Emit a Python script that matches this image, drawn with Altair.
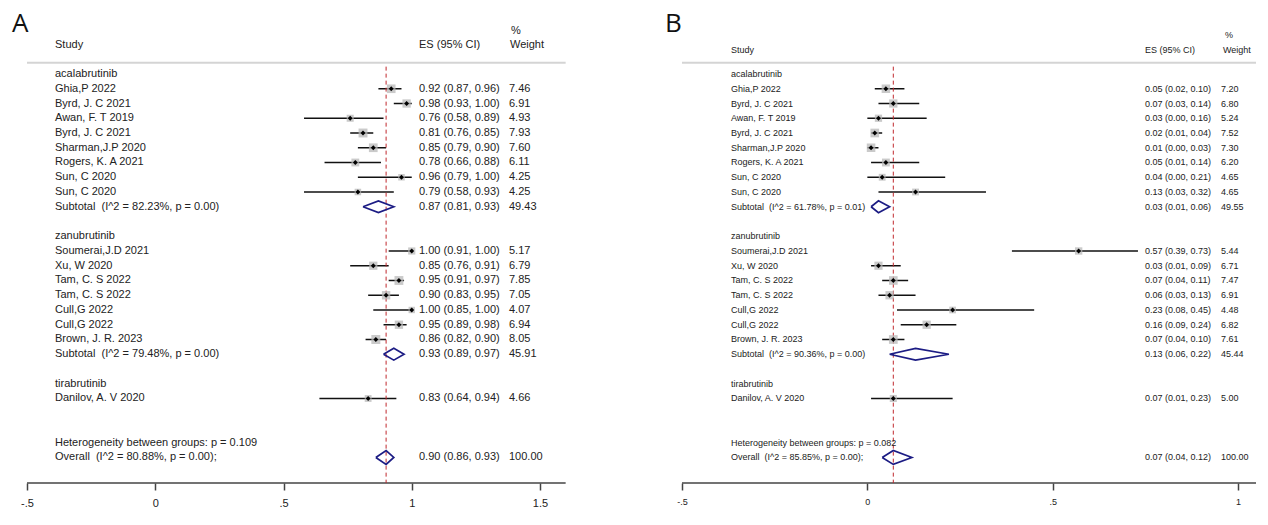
import altair as alt
import pandas as pd

# ---------------- shared structure ----------------
groups = ["acalabrutinib", "zanubrutinib", "tirabrutinib"]
group_sizes = [8, 7, 1]
studies = ["Ghia,P 2022", "Byrd, J. C 2021", "Awan, F. T 2019", "Byrd, J. C 2021",
           "Sharman,J.P 2020", "Rogers, K. A 2021", "Sun, C 2020", "Sun, C 2020",
           "Soumerai,J.D 2021", "Xu, W 2020", "Tam, C. S 2022", "Tam, C. S 2022",
           "Cull,G 2022", "Cull,G 2022", "Brown, J. R. 2023",
           "Danilov, A. V 2020"]

# ---------------- panel A ----------------
a_es = [0.92, 0.98, 0.76, 0.81, 0.85, 0.78, 0.96, 0.79,
        1.00, 0.85, 0.95, 0.90, 1.00, 0.95, 0.86, 0.83]
a_lo = [0.87, 0.93, 0.58, 0.76, 0.79, 0.66, 0.79, 0.58,
        0.91, 0.76, 0.91, 0.83, 0.85, 0.89, 0.82, 0.64]
a_hi = [0.96, 1.00, 0.89, 0.85, 0.90, 0.88, 1.00, 0.93,
        1.00, 0.91, 0.97, 0.95, 1.00, 0.98, 0.90, 0.94]
a_w = [7.46, 6.91, 4.93, 7.93, 7.60, 6.11, 4.25, 4.25,
       5.17, 6.79, 7.85, 7.05, 4.07, 6.94, 8.05, 4.66]
a_sub_label = ["Subtotal  (I^2 = 82.23%, p = 0.00)", "Subtotal  (I^2 = 79.48%, p = 0.00)"]
a_sub_es = [0.87, 0.93]
a_sub_lo = [0.81, 0.89]
a_sub_hi = [0.93, 0.97]
a_sub_w = [49.43, 45.91]
a_het = "Heterogeneity between groups: p = 0.109"
a_ov_label = "Overall  (I^2 = 80.88%, p = 0.00);"
a_ov = [0.90, 0.86, 0.93, 100.00]

# ---------------- panel B ----------------
b_es = [0.05, 0.07, 0.03, 0.02, 0.01, 0.05, 0.04, 0.13,
        0.57, 0.03, 0.07, 0.06, 0.23, 0.16, 0.07, 0.07]
b_lo = [0.02, 0.03, 0.00, 0.01, 0.00, 0.01, 0.00, 0.03,
        0.39, 0.01, 0.04, 0.03, 0.08, 0.09, 0.04, 0.01]
b_hi = [0.10, 0.14, 0.16, 0.04, 0.03, 0.14, 0.21, 0.32,
        0.73, 0.09, 0.11, 0.13, 0.45, 0.24, 0.10, 0.23]
b_w = [7.20, 6.80, 5.24, 7.52, 7.30, 6.20, 4.65, 4.65,
       5.44, 6.71, 7.47, 6.91, 4.48, 6.82, 7.61, 5.00]
b_sub_label = ["Subtotal  (I^2 = 61.78%, p = 0.01)", "Subtotal  (I^2 = 90.36%, p = 0.00)"]
b_sub_es = [0.03, 0.13]
b_sub_lo = [0.01, 0.06]
b_sub_hi = [0.06, 0.22]
b_sub_w = [49.55, 45.44]
b_het = "Heterogeneity between groups: p = 0.082"
b_ov_label = "Overall  (I^2 = 85.85%, p = 0.00);"
b_ov = [0.07, 0.04, 0.12, 100.00]

tick_values_a = [-0.5, 0, 0.5, 1, 1.5]
tick_values_b = [-0.5, 0, 0.5, 1]
headers = ["Study", "ES (95% CI)", "Weight", "%"]

NB = "\u00a0"


def fix(s):
    return s.replace("  ", NB + " ")


def build(es, lo, hi, w, sub_label, sub_es, sub_lo, sub_hi, sub_w, het, ov_label, ov):
    rows, dia = [], []
    r, i = 0, 0

    def add_diamond(key, e, l, h, rr, hh):
        pts = [(l, rr), (e, rr - hh), (h, rr), (e, rr + hh), (l, rr)]
        for k, (px, py) in enumerate(pts):
            dia.append(dict(id=key, o=k, x=px, r=py))

    for g, n in enumerate(group_sizes):
        rows.append(dict(r=r, label=groups[g], kind="group"))
        r += 1
        for _ in range(n):
            rows.append(dict(r=r, label=studies[i], kind="study", es=es[i], lo=lo[i], hi=hi[i],
                             w=w[i], est=f"{es[i]:.2f} ({lo[i]:.2f}, {hi[i]:.2f})", wt=f"{w[i]:.2f}"))
            r += 1
            i += 1
        if g < len(sub_label):
            rows.append(dict(r=r, label=fix(sub_label[g]), kind="sub", es=sub_es[g], lo=sub_lo[g],
                             hi=sub_hi[g], w=sub_w[g],
                             est=f"{sub_es[g]:.2f} ({sub_lo[g]:.2f}, {sub_hi[g]:.2f})",
                             wt=f"{sub_w[g]:.2f}"))
            add_diamond(f"s{g}", sub_es[g], sub_lo[g], sub_hi[g], r, 0.4)
            r += 1
        r += 1
    r += 1
    rows.append(dict(r=r, label=het, kind="het"))
    r += 1
    rows.append(dict(r=r, label=fix(ov_label), kind="overall", es=ov[0], lo=ov[1], hi=ov[2], w=ov[3],
                     est=f"{ov[0]:.2f} ({ov[1]:.2f}, {ov[2]:.2f})", wt=f"{ov[3]:.2f}"))
    add_diamond("ov", ov[0], ov[1], ov[2], r, 0.47)
    return pd.DataFrame(rows), pd.DataFrame(dia)


RMIN, RMAX = -4.475, 27.73
H = 475
ys = alt.Scale(domain=[RMIN, RMAX], reverse=True, nice=False, zero=False)
FONT = "Liberation Sans"
TC = "#222222"


def panel(letter, df, dia, ov_es, dom, width, ticks, axis_end, fs, afs,
          px_study, px_es, px_w, px_whdr, px_pct, y_hdr, y_pct, hdr_r, px_letter):
    xs = alt.Scale(domain=dom, nice=False, zero=False)
    xaxis = alt.Axis(
        values=ticks, domain=False, grid=False, ticks=True, tickSize=7, tickColor="#444444",
        tickWidth=1.5, labelFont=FONT, labelFontSize=afs, labelColor=TC, labelPadding=7,
        title=None, labelFlush=False, labelOverlap=False,
        labelExpr="datum.value == -0.5 ? '-.5' : datum.value == 0.5 ? '.5' : datum.label",
        format=".1~f")

    def Y(f="r"):
        return alt.Y(f"{f}:Q", scale=ys, axis=None)

    def X(f):
        return alt.X(f"{f}:Q", scale=xs, axis=xaxis, title=None)

    studies_df = df[df.kind == "study"]

    ci = alt.Chart(studies_df).mark_rule(color="#111111", strokeWidth=1.5).encode(
        x=X("lo"), x2="hi:Q", y=Y())
    boxes = alt.Chart(studies_df).transform_calculate(box="datum.w * 10").mark_square(
        color="#b8b8b8", opacity=0.75).encode(x=X("es"), y=Y(), size=alt.Size("box:Q", scale=None))
    dots = alt.Chart(studies_df).mark_point(shape="diamond", filled=True, color="#000000",
                                            size=24, opacity=1).encode(x=X("es"), y=Y())
    diam = alt.Chart(dia).mark_line(color="#1c1c84", strokeWidth=1.7).encode(
        x=X("x"), y=Y(), detail="id:N", order="o:Q")

    ref = pd.DataFrame({"x": [ov_es], "r": [-0.5], "r2": [RMAX]})
    dash = alt.Chart(ref).mark_rule(color="#c0282d", strokeDash=[4, 3], strokeWidth=1).encode(
        x=X("x"), y=Y(), y2="r2:Q")

    ax = pd.DataFrame({"x": [ticks[0]], "x2": [axis_end], "r": [RMAX]})
    axis_line = alt.Chart(ax).mark_rule(color="#444444", strokeWidth=1.5).encode(
        x=X("x"), x2="x2:Q", y=Y())
    hl = pd.DataFrame({"x": [ticks[0]], "x2": [axis_end], "r": [hdr_r]})
    hdr_line = alt.Chart(hl).mark_rule(color="#d4d4d4", strokeWidth=2).encode(
        x=X("x"), x2="x2:Q", y=Y())

    def txt(data, field, px):
        return alt.Chart(data).mark_text(align="left", baseline="middle", font=FONT, fontSize=fs,
                                         color=TC).encode(x=alt.value(px), y=Y(), text=f"{field}:N")

    lab = txt(df, "label", px_study)
    est = txt(df.dropna(subset=["est"]), "est", px_es)
    wt = txt(df.dropna(subset=["wt"]), "wt", px_w)

    head_layers = []
    for t, px, py in zip(headers, [px_study, px_es, px_whdr, px_pct], [y_hdr, y_hdr, y_hdr, y_pct]):
        head_layers.append(
            alt.Chart(pd.DataFrame({"t": [t]})).mark_text(
                align="left", baseline="middle", font=FONT, fontSize=fs, color=TC).encode(
                x=alt.value(px), y=alt.value(py), text="t:N"))
    let = alt.Chart(pd.DataFrame({"t": [letter]})).mark_text(
        align="left", baseline="top", font="Open Sans", fontSize=26, color="#111111").encode(
        x=alt.value(px_letter), y=alt.value(3), text="t:N")

    return alt.layer(ci, hdr_line, axis_line, dash, boxes, dots, diam, lab, est, wt,
                     *head_layers, let).properties(width=width, height=H)


dfA, diaA = build(a_es, a_lo, a_hi, a_w, a_sub_label, a_sub_es, a_sub_lo, a_sub_hi, a_sub_w,
                  a_het, a_ov_label, a_ov)
dfB, diaB = build(b_es, b_lo, b_hi, b_w, b_sub_label, b_sub_es, b_sub_lo, b_sub_hi, b_sub_w,
                  b_het, b_ov_label, b_ov)

pA = panel("A", dfA, diaA, a_ov[0], [-0.5741, 1.8431], 620, tick_values_a, 1.6, 11, 11,
           47, 411, 501, 502, 503, 37, 23, -0.76, 4)
pB = panel("B", dfB, diaB, b_ov[0], [-0.6133, 1.0484], 616, tick_values_b, 1.0484, 9, 9,
           91, 505, 581, 583, 585, 42, 27, -0.76, 25)

chart = alt.hconcat(pA, pB, spacing=12).properties(
    padding={"left": 0, "top": 0, "right": 0, "bottom": 0},
    background="white",
).configure_view(stroke=None)

chart.save("out.html", embed_options={"renderer": "svg", "actions": False})
